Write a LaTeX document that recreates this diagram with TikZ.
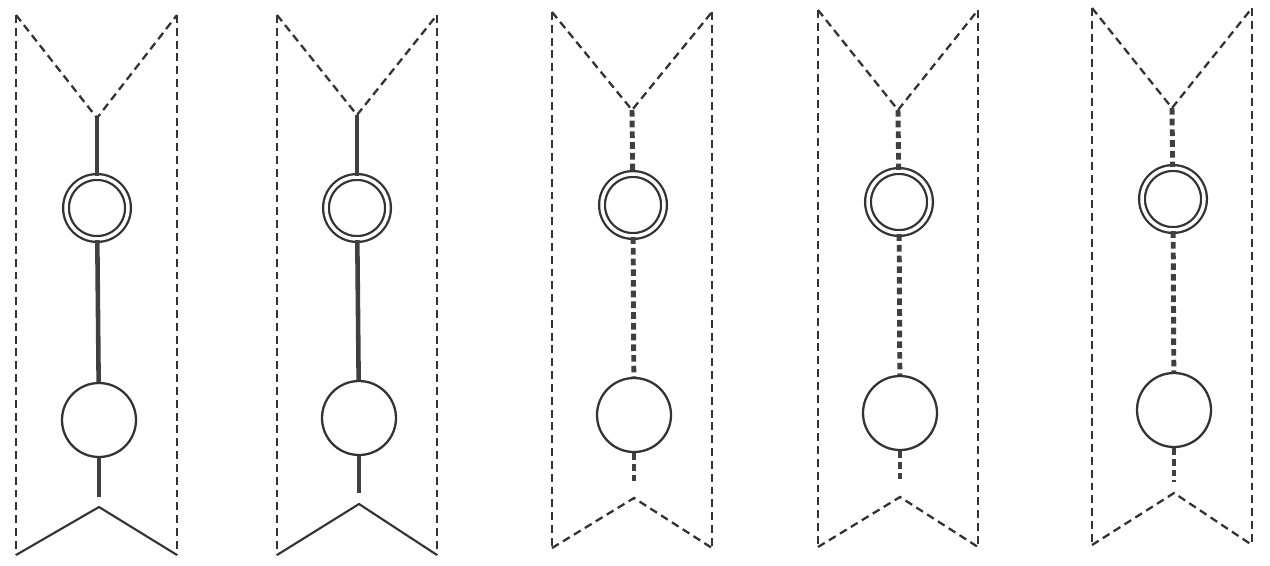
\documentclass[tikz,border=0pt]{standalone}
\begin{document}
\begin{tikzpicture}[x=0.02cm,y=-0.02cm,
  edge/.style={draw=black!80,line width=1.3pt,dash pattern=on 4.5pt off 2.8pt},
  spinesolid/.style={draw=black!75,line width=2.6pt},
  spinedash/.style={draw=black!75,line width=2.8pt,dash pattern=on 3.8pt off 2.3pt},
  vsolid/.style={draw=black!80,line width=1.2pt},
  vdash/.style={draw=black!80,line width=1.3pt,dash pattern=on 4.5pt off 2.8pt},
  ring/.style={circle,draw=black!80,line width=1.3pt,minimum size=62*0.02cm,inner sep=0pt,
     double=white,double distance=2pt},
  bigc/.style={circle,draw=black!80,line width=1.3pt,minimum size=74*0.02cm,inner sep=0pt}]
\useasboundingbox (0,0) rectangle (1270,565);
\foreach \p/\L/\R/\T/\ax/\ay/\dx/\dy/\bx/\by/\le/\bay/\bot/\sp/\bv in {
  1/16/177/15/97/118/97/208/99/420/497/507/555/spinesolid/vsolid,
  2/277/437/15/357/115/357/208/359/418/493/504/555/spinesolid/vsolid,
  3/552/712/12/632/110/633/205/634/415/483/498/548/spinedash/vdash,
  4/818/978/10/898/110/899/202/900/413/482/497/547/spinedash/vdash,
  5/1092/1252/8/1172/108/1173/199/1174/410/482/493/545/spinedash/vdash}{
  \coordinate (tl\p) at (\L,\T);
  \coordinate (tr\p) at (\R,\T);
  \coordinate (bl\p) at (\L,\bot);
  \coordinate (br\p) at (\R,\bot);
  \coordinate (ap\p) at (\ax,\ay);
  \coordinate (le\p) at (\bx,\le);
  \coordinate (ba\p) at (\bx,\bay);
  \node[ring] (d\p) at (\dx,\dy) {};
  \node[bigc] (b\p) at (\bx,\by) {};
  \draw[edge] (tl\p) -- (bl\p);
  \draw[edge] (tr\p) -- (br\p);
  \draw[edge] (tl\p) -- (ap\p) -- (tr\p);
  \draw[\sp] (ap\p) -- (d\p);
  \draw[\sp] (d\p) -- (b\p);
  \draw[\sp] (b\p) -- (le\p);
  \draw[\bv] (bl\p) -- (ba\p) -- (br\p);
}
\end{tikzpicture}
\end{document}
